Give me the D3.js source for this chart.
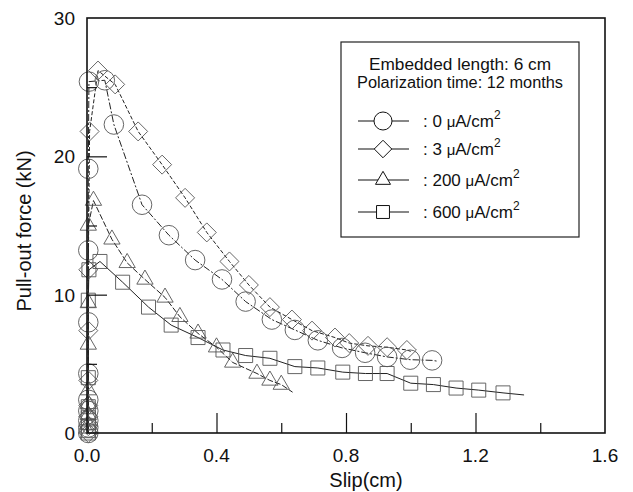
<!DOCTYPE html>
<html>
<head>
<meta charset="utf-8">
<script src="https://cdn.jsdelivr.net/npm/d3@7"></script>
<style>
  body { margin: 0; background: #fff; }
  text { font-family: Arial, "Liberation Sans", sans-serif; fill: #111; }
</style>
</head>
<body>
<svg id="plot" width="633" height="492"></svg>
<script>
// ---- data (slip in cm, force in kN) ----
let circ0 = [[0.004,0],[0.004,0.4],[0.004,0.9],[0.004,1.6],[0.004,2.4],[0.004,4.3],[0.004,8.0],[0.004,13.2],[0.004,19.1],[0.006,25.4],
  [0.055,25.5],[0.083,22.3],[0.17,16.5],[0.253,14.3],[0.334,12.5],[0.417,11.1],[0.49,9.5],[0.571,8.2],[0.642,7.45],[0.713,6.7],
  [0.788,6.15],[0.859,5.8],[0.927,5.5],[0.998,5.3],[1.066,5.25]]
let diam3 = [[0.004,0],[0.004,0.5],[0.004,1.2],[0.004,2.0],[0.004,3.8],[0.004,7.4],[0.004,11.8],[0.008,21.8],
  [0.034,26.2],[0.087,25.2],[0.158,21.8],[0.232,19.4],[0.303,17.0],[0.37,14.5],[0.44,12.4],[0.50,10.7],[0.565,9.1],
  [0.633,8.2],[0.695,7.4],[0.766,6.9],[0.81,6.5],[0.868,6.3],[0.927,6.2],[0.988,6.0]]
let tri200 = [[0.004,0],[0.004,0.6],[0.004,1.3],[0.004,2.1],[0.004,3.1],[0.004,6.4],[0.004,9.4],[0.004,15.0],[0.02,16.8],
  [0.077,14.0],[0.124,12.3],[0.179,11.1],[0.241,9.8],[0.287,8.4],[0.343,7.2],[0.40,6.2],[0.45,5.1],[0.525,4.3],[0.565,3.8],[0.60,3.5]]
let sq600 = [[0.004,0],[0.004,0.5],[0.004,1.1],[0.004,1.9],[0.004,4.0],[0.004,9.6],[0.006,11.8],[0.04,12.4],[0.11,10.9],
  [0.19,9.1],[0.26,7.8],[0.343,6.9],[0.42,6.0],[0.49,5.6],[0.565,5.4],[0.642,4.8],[0.713,4.7],[0.79,4.4],[0.86,4.3],
  [0.927,4.3],[1.0,3.6],[1.07,3.5],[1.14,3.25],[1.21,3.1],[1.285,2.9]]
// where the fitted lines run on past the last marker
let lineEnds = { circ: [1.08,5.2], diam: [1.0,5.9], tri: [0.635,2.95], sq: [1.35,2.75] }

let xMajor = [0.0, 0.4, 0.8, 1.2, 1.6]
let xMinor = [0.2, 0.6, 1.0, 1.4]
let yMajor = [0, 10, 20, 30]
let yMinor = [5, 15, 25]

let legendTitle = ["Embedded length: 6 cm", "Polarization time: 12 months"]
let legendLabels = ["0", "3", "200", "600"]

// ---- layout ----
let svg = d3.select("#plot")
let m_left = 87, m_right = 605, m_top = 18, m_bottom = 433

let x_scale = d3.scaleLinear([0, 1.6], [m_left, m_right])
let y_scale = d3.scaleLinear([0, 30], [m_bottom, m_top])

let series = [
  { key: "circ", data: circ0, sym: d3.symbolCircle, size: 300, dash: "7,2,2,2" },
  { key: "diam", data: diam3, sym: d3.symbolDiamond2, size: 230, dash: "4,2" },
  { key: "tri", data: tri200, sym: d3.symbolTriangle2, size: 190, dash: "6,2" },
  { key: "sq", data: sq600, sym: d3.symbolSquare2, size: 250, dash: null }
]

let line = d3.line().x(d => x_scale(d[0])).y(d => y_scale(d[1]))

// curves
let gLines = svg.append("g")
series.forEach(s => {
  gLines.append("path")
    .attr("d", line(s.data.concat([lineEnds[s.key]])))
    .attr("fill", "none")
    .attr("stroke", "#222")
    .attr("stroke-width", 1)
    .attr("stroke-dasharray", s.dash)
})

// markers
series.forEach(s => {
  svg.append("g").selectAll("path")
    .data(s.data)
    .join("path")
    .attr("transform", d => `translate(${x_scale(d[0])},${y_scale(d[1])})`)
    .attr("d", d3.symbol(s.sym, s.size))
    .attr("fill", "none")
    .attr("stroke", "#555")
    .attr("stroke-width", 0.9)
})

// frame
svg.append("rect")
  .attr("x", m_left).attr("y", m_top)
  .attr("width", m_right - m_left).attr("height", m_bottom - m_top)
  .attr("fill", "none").attr("stroke", "#111").attr("stroke-width", 1.6)

// ticks (inside)
let xAxis = d3.axisTop(x_scale).tickValues(xMajor.slice(1, -1)).tickSize(20).tickFormat("")
svg.append("g").attr("transform", `translate(0,${m_bottom})`).call(xAxis)
let xAxisMinor = d3.axisTop(x_scale).tickValues(xMinor).tickSize(10).tickFormat("")
svg.append("g").attr("transform", `translate(0,${m_bottom})`).call(xAxisMinor)
let yAxis = d3.axisRight(y_scale).tickValues(yMajor.slice(1, -1)).tickSize(20).tickFormat("")
svg.append("g").attr("transform", `translate(${m_left},0)`).call(yAxis)
let yAxisMinor = d3.axisRight(y_scale).tickValues(yMinor).tickSize(10).tickFormat("")
svg.append("g").attr("transform", `translate(${m_left},0)`).call(yAxisMinor)
svg.selectAll(".domain").remove()
svg.selectAll(".tick line").attr("stroke", "#111").attr("stroke-width", 1.2)

// tick labels
svg.append("g").selectAll("text")
  .data(xMajor)
  .join("text")
  .attr("x", d => x_scale(d))
  .attr("y", 462)
  .attr("text-anchor", "middle")
  .attr("font-size", 19)
  .text(d => d.toFixed(1))

svg.append("g").selectAll("text")
  .data(yMajor)
  .join("text")
  .attr("x", 75)
  .attr("y", d => y_scale(d) + 7)
  .attr("text-anchor", "end")
  .attr("font-size", 19)
  .text(d => d)

// axis titles
svg.append("text")
  .attr("x", 366)
  .attr("y", 487)
  .attr("text-anchor", "middle")
  .attr("font-size", 20)
  .text("Slip(cm)")

svg.append("text")
  .attr("transform", `translate(31,231) rotate(-90)`)
  .attr("text-anchor", "middle")
  .attr("font-size", 20)
  .text("Pull-out force (kN)")

// legend
let lg = svg.append("g")
lg.append("rect")
  .attr("x", 341).attr("y", 42).attr("width", 238).attr("height", 195)
  .attr("fill", "#fff").attr("stroke", "#222").attr("stroke-width", 1.2)

let titleLen = [182, 206]
lg.selectAll("text.title")
  .data(legendTitle)
  .join("text")
  .attr("class", "title")
  .attr("x", 460)
  .attr("y", (d, i) => 70 + i * 18)
  .attr("text-anchor", "middle")
  .attr("font-size", 16)
  .attr("textLength", (d, i) => titleLen[i])
  .attr("lengthAdjust", "spacingAndGlyphs")
  .text(d => d)

let rowY = [121, 149, 180, 212]
series.forEach((s, i) => {
  let yy = rowY[i]
  lg.append("line")
    .attr("x1", 358).attr("x2", 409).attr("y1", yy).attr("y2", yy)
    .attr("stroke", "#111").attr("stroke-width", 1.2)
  lg.append("path")
    .attr("transform", `translate(383,${yy})`)
    .attr("d", d3.symbol(s.sym, s.size * 0.85))
    .attr("fill", "#fff").attr("stroke", "#111").attr("stroke-width", 1)
  let t = lg.append("text")
    .attr("x", 423).attr("y", yy + 6)
    .attr("font-size", 17)
  t.append("tspan").text(": " + legendLabels[i] + " ")
  t.append("tspan").attr("font-size", 15).text("\u03bc")
  t.append("tspan").text("A/cm")
  t.append("tspan").attr("font-size", 12).attr("dy", -8).text("2")
})
</script>
</body>
</html>
